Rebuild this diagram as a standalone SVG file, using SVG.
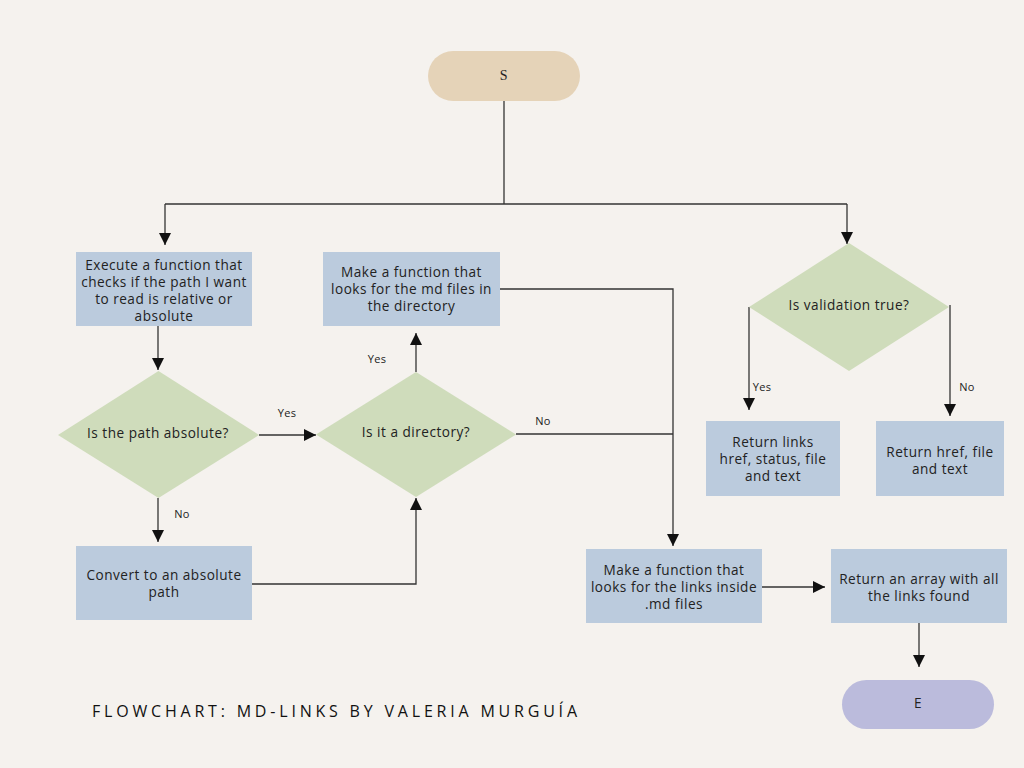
<svg xmlns="http://www.w3.org/2000/svg" width="1024" height="768" viewBox="0 0 1024 768">
<defs>
<marker id="arr" markerUnits="userSpaceOnUse" markerWidth="12" markerHeight="12" viewBox="0 0 10 10" refX="10" refY="5" orient="auto">
<path d="M0,0 L10,5 L0,10 z" fill="#111"/>
</marker>
<style>
.box{fill:#bbcbdd}
.dia{fill:#cfdcbb}
.t{font-family:"Open Sans","Liberation Sans",sans-serif;font-size:13.6px;letter-spacing:0.5px;fill:#222;text-anchor:middle}
.lbl{font-family:"Open Sans","Liberation Sans",sans-serif;font-size:11px;letter-spacing:0.3px;fill:#222;text-anchor:middle}
.c{fill:none;stroke:#333;stroke-width:1.3}
.ca{fill:none;stroke:#333;stroke-width:1.3;marker-end:url(#arr)}
</style>
</defs>
<rect width="1024" height="768" fill="#f5f2ee"/>
<g id="connectors">
<path class="c" d="M504,101 V204"/>
<path class="c" d="M165,204 H847"/>
<path class="ca" d="M165,204 V245"/>
<path class="ca" d="M847,204 V244"/>
<path class="ca" d="M158,326 V370"/>
<path class="ca" d="M259,435 H316"/>
<path class="ca" d="M158,498 V542"/>
<path class="ca" d="M252,584 H416 V498"/>
<path class="ca" d="M416,372 V333"/>
<path class="ca" d="M500,289 H673 V546"/>
<path class="c" d="M516,434 H673"/>
<path class="ca" d="M762,587 H825"/>
<path class="ca" d="M919,623 V667"/>
<path class="ca" d="M749,307 V410"/>
<path class="ca" d="M950,305 V416"/>
<text class="lbl" x="287" y="417">Yes</text>
<text class="lbl" x="377" y="363">Yes</text>
<text class="lbl" x="543" y="425">No</text>
<text class="lbl" x="182" y="518">No</text>
<text class="lbl" x="762" y="391">Yes</text>
<text class="lbl" x="967" y="391">No</text>
</g>
<g id="start">
<rect x="428" y="51" width="152" height="50" rx="25" fill="#e5d3b8"/>
<text class="t" x="504" y="80" style="font-family:'Liberation Serif',serif;font-size:14px">S</text>
</g>
<g id="check-path">
<rect class="box" x="76" y="252" width="176" height="74"/>
<text class="t" x="164" y="270">Execute a function that</text>
<text class="t" x="164" y="287">checks if the path I want</text>
<text class="t" x="164" y="304">to read is relative or</text>
<text class="t" x="164" y="321">absolute</text>
</g>
<g id="is-absolute">
<polygon class="dia" points="158.5,371 259,435 158.5,498 58,435"/>
<text class="t" x="158" y="438">Is the path absolute?</text>
</g>
<g id="convert">
<rect class="box" x="76" y="546" width="176" height="74"/>
<text class="t" x="164" y="580">Convert to an absolute</text>
<text class="t" x="164" y="597">path</text>
</g>
<g id="is-directory">
<polygon class="dia" points="416,372 516,434.5 416,497 316,434.5"/>
<text class="t" x="416" y="437">Is it a directory?</text>
</g>
<g id="md-files">
<rect class="box" x="323" y="252" width="177" height="74"/>
<text class="t" x="411.5" y="277">Make a function that</text>
<text class="t" x="411.5" y="294">looks for the md files in</text>
<text class="t" x="411.5" y="311">the directory</text>
</g>
<g id="links-inside">
<rect class="box" x="586" y="549" width="176" height="74"/>
<text class="t" x="674" y="575">Make a function that</text>
<text class="t" x="674" y="592">looks for the links inside</text>
<text class="t" x="674" y="609">.md files</text>
</g>
<g id="return-array">
<rect class="box" x="831" y="549" width="176" height="74"/>
<text class="t" x="919" y="584">Return an array with all</text>
<text class="t" x="919" y="601">the links found</text>
</g>
<g id="end">
<rect x="842" y="680" width="152" height="49" rx="24.5" fill="#bbbbdc"/>
<text class="t" x="918" y="708">E</text>
</g>
<g id="is-validation">
<polygon class="dia" points="849,243 949,307 849,371 749,307"/>
<text class="t" x="849" y="310">Is validation true?</text>
</g>
<g id="return-links">
<rect class="box" x="706" y="421" width="134" height="75"/>
<text class="t" x="773" y="447">Return links</text>
<text class="t" x="773" y="464">href, status, file</text>
<text class="t" x="773" y="481">and text</text>
</g>
<g id="return-href">
<rect class="box" x="876" y="421" width="128" height="75"/>
<text class="t" x="940" y="457">Return href, file</text>
<text class="t" x="940" y="474">and text</text>
</g>
<text x="92" y="717" textLength="487" lengthAdjust="spacing" style="font-family:'Open Sans','Lato',sans-serif;font-size:16px;font-weight:400;fill:#111;letter-spacing:2px">FLOWCHART: MD-LINKS BY VALERIA MURGUÍA</text>
</svg>
